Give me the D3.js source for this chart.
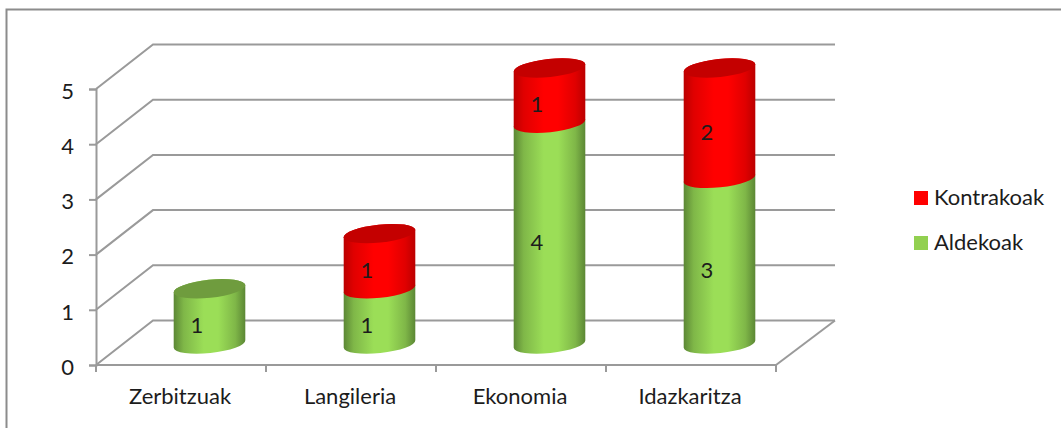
<!DOCTYPE html>
<html><head><meta charset="utf-8">
<script src="https://cdn.jsdelivr.net/npm/d3@7/dist/d3.min.js"></script>
<style>html,body{margin:0;padding:0;background:#fff;overflow:hidden}svg{display:block}text{font-family:Lato,"Open Sans",sans-serif;fill:#1c1c1c}</style>
</head><body><svg id="c" width="1061" height="428"></svg>
<script>
const categories=["Zerbitzuak","Langileria","Ekonomia","Idazkaritza"];
const aldekoak=[1,1,4,3];
const kontrakoak=[0,1,1,2];
const yTicks=[0,1,2,3,4,5];
const seriesNames=["Kontrakoak","Aldekoak"];

const svg=d3.select("#c");
const x=d3.scaleBand().domain(categories).range([96,776]);
const y=d3.scaleLinear().domain([0,5]).range([365,89]);
const depthX=57,depthXR=59,depthY=44.5,GRID="#9a9a9a",FS=22;

svg.append("path").attr("d","M6.5,428V9.5H1061").attr("fill","none").attr("stroke","#8c8c8c").attr("stroke-width",2);

const defs=svg.append("defs");
function grad(id,e,m){const g=defs.append("linearGradient").attr("id",id);
 [[0,e],[.14,d3.interpolateRgb(e,m)(.55)],[.42,m],[.62,m],[.86,d3.interpolateRgb(e,m)(.55)],[1,e]].forEach(s=>g.append("stop").attr("offset",s[0]).attr("stop-color",s[1]));}
grad("g","#5c8735","#9bde57");grad("r","#bb0000","#ff0000");

// walls
const gl=svg.append("g").attr("fill","none").attr("stroke",GRID).attr("stroke-width",2);
yTicks.forEach(t=>{
 gl.append("path").attr("d",`M${x.range()[0]},${y(t)}L${x.range()[0]+depthX},${y(t)-depthY}H${x.range()[1]+depthXR}`);
});
gl.append("path").attr("d",`M${x.range()[1]},${y(0)}L${x.range()[1]+depthXR},${y(0)-depthY}`);
// axes
const axY=d3.axisLeft(y).tickValues(yTicks).tickSize(7).tickPadding(15).tickFormat(d3.format("d"));
const ay=svg.append("g").attr("transform",`translate(${x.range()[0]},0)`).call(axY);
const axX=d3.axisBottom(x).tickSize(0).tickPadding(23);
const ax=svg.append("g").attr("transform",`translate(0,${y(0)})`).call(axX);
categories.concat(["_"]).forEach((c,i)=>{const px=x.range()[0]+i*x.step();
 ax.append("line").attr("x1",px).attr("x2",px).attr("y1",0).attr("y2",7).attr("stroke",GRID).attr("stroke-width",2);});
[ay,ax].forEach(a=>{a.selectAll(".domain,.tick line").attr("stroke",GRID).attr("stroke-width",2);
 a.selectAll("text").attr("font-size",FS).style("fill","#1c1c1c").attr("font-family","Lato");a.selectAll(".domain").attr("fill","none");a.attr("font-family",null)});
ay.selectAll(".tick text").attr("dy","0.42em");
ax.selectAll(".tick text").attr("dx",-1);
ax.selectAll(".domain").attr("d",`M${x.range()[0]},0H${x.range()[1]}`);

// cylinders
const rx=36,ry=9,rot=-6,dyE=rx*Math.sin(6*Math.PI/180),dxE=rx*Math.cos(6*Math.PI/180);
const zOff=21;
function seg(cx,v0,v1,fill,cap){
 const yb=y(v0)-zOff,yt=y(v1)-zOff;
 const g=svg.append("g");
 g.append("path").attr("fill",`url(#${fill})`).attr("d",
 `M${cx-dxE},${yt+dyE}L${cx-dxE},${yb+dyE}A${rx},${ry} ${rot} 0 0 ${cx+dxE},${yb-dyE}L${cx+dxE},${yt-dyE}A${rx},${ry} ${rot} 0 0 ${cx-dxE},${yt+dyE}Z`);
 if(cap)g.append("ellipse").attr("transform",`translate(${cx},${yt}) rotate(${rot})`).attr("rx",rx).attr("ry",ry).attr("fill",cap);
 g.append("text").attr("x",cx-12.5).attr("y",(yb+yt)/2+16.5).attr("text-anchor","middle").attr("font-size",FS).text(v1-v0);
}
categories.forEach((c,i)=>{
 const cx=x(c)+x.step()/2+28.5;
 const a=aldekoak[i],k=kontrakoak[i];
 seg(cx,0,a,"g",k?null:"#6f9c3e");
 if(k)seg(cx,a,a+k,"r","#c40000");
});

// legend
const colors=["#ff0000","#92d050"],ly=[198,243];
seriesNames.forEach((n,i)=>{
 svg.append("rect").attr("x",914).attr("y",ly[i]-7).attr("width",14).attr("height",14).attr("fill",colors[i]);
 svg.append("text").attr("x",934).attr("y",ly[i]+7).attr("font-size",FS).text(n);
});
</script></body></html>
